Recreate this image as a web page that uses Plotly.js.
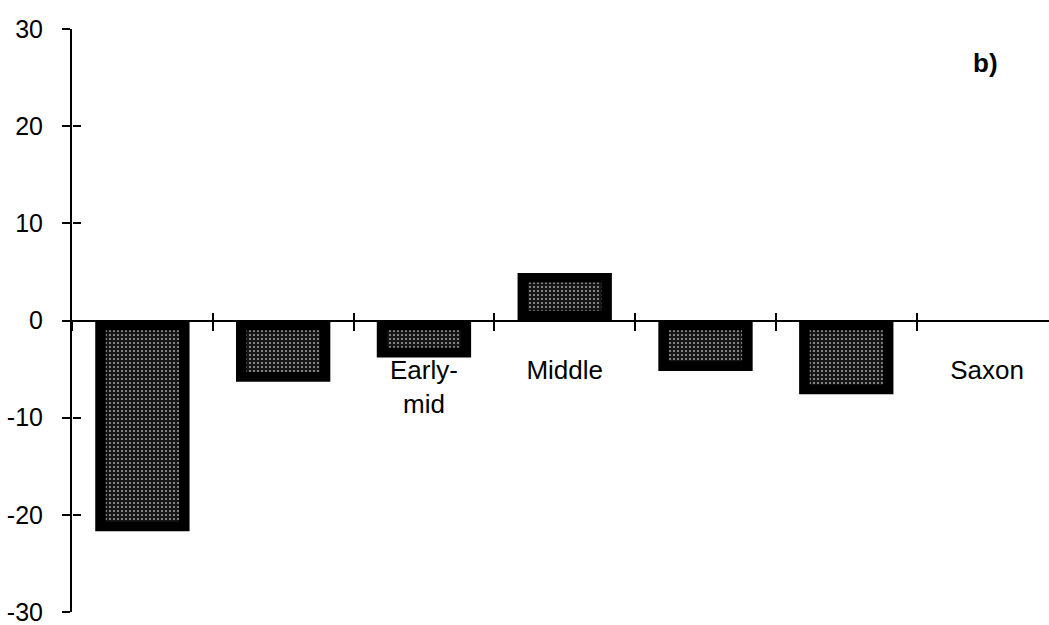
<!DOCTYPE html>
<html>
<head>
<meta charset="utf-8">
<script src="https://cdn.plot.ly/plotly-3.0.1.min.js"></script>
<style>
  html, body { margin: 0; padding: 0; background: #fff; }
  #chart { width: 1049px; height: 625px; }
</style>
</head>
<body>
<div id="chart"></div>
<script>
// periods along the x axis (only some were labelled in the original)
var periods = ['p1', 'p2', 'p3', 'p4', 'p5', 'p6', 'p7'];
var periodLabels = ['', '', 'Early-<br>mid', 'Middle', '', '', 'Saxon'];
var values = [-21.7, -6.3, -3.8, 4.9, -5.2, -7.6, 0];
var yTicks = [-30, -20, -10, 0, 10, 20, 30];

// inner speckled panel sits inside the black frame
var inset = 1.0;
var innerBase = values.map(function(v){ return v < 0 ? -inset : inset; });
var innerLen = values.map(function(v){
    if (Math.abs(v) <= 2 * inset) return 0;
    return v < 0 ? v + 2 * inset : v - 2 * inset;
});

var font = 'Liberation Sans, Arial, Helvetica, sans-serif';

var frame = {
    type: 'bar',
    x: periods,
    y: values,
    width: 0.67,
    marker: { color: '#000', line: { width: 0 } },
    hoverinfo: 'skip'
};

var fill = {
    type: 'bar',
    x: periods,
    y: innerLen,
    base: innerBase,
    width: 0.52,
    marker: {
        color: '#222',
        line: { width: 0 },
        pattern: { shape: '.', bgcolor: '#161616', fgcolor: '#a8a8a8', size: 4, solidity: 0.2, fillmode: 'replace' }
    },
    hoverinfo: 'skip'
};

// helper trace so the second pair of axes (crossing ticks) is drawn
var helper = {
    type: 'scatter',
    mode: 'markers',
    x: periods,
    y: values,
    xaxis: 'x2',
    yaxis: 'y2',
    marker: { opacity: 0 },
    hoverinfo: 'skip'
};

var layout = {
    width: 1049,
    height: 625,
    margin: { l: 72, r: 0, t: 29, b: 13 },
    paper_bgcolor: '#fff',
    plot_bgcolor: 'rgba(0,0,0,0)',
    showlegend: false,
    barmode: 'overlay',
    font: { family: font, size: 25, color: '#000' },
    xaxis: {
        type: 'category',
        categoryorder: 'array',
        categoryarray: periods,
        range: [-0.5, 6.44],
        anchor: 'free',
        position: 0.5,
        showline: true,
        linecolor: '#000',
        linewidth: 2,
        ticks: 'outside',
        tickson: 'boundaries',
        ticklen: 9,
        tickwidth: 2,
        tickcolor: '#000',
        tickvals: periods,
        ticktext: periodLabels,
        ticklabelstandoff: 26,
        tickfont: { family: font, size: 26, color: '#000' },
        showgrid: false,
        zeroline: false,
        fixedrange: true
    },
    xaxis2: {
        type: 'category',
        overlaying: 'x',
        matches: 'x',
        anchor: 'free',
        position: 0.5,
        showline: false,
        ticks: 'inside',
        tickson: 'boundaries',
        ticklen: 8,
        tickwidth: 2,
        tickcolor: '#000',
        tickvals: periods,
        showticklabels: false,
        showgrid: false,
        zeroline: false
    },
    yaxis: {
        range: [-30, 30],
        tickvals: yTicks,
        ticktext: yTicks.map(String),
        showline: true,
        linecolor: '#000',
        linewidth: 2,
        ticks: 'outside',
        ticklen: 8,
        tickwidth: 2,
        tickcolor: '#000',
        ticklabelstandoff: 14,
        ticklabeloverflow: 'allow',
        tickfont: { family: font, size: 25, color: '#000' },
        showgrid: false,
        zeroline: false,
        fixedrange: true
    },
    yaxis2: {
        overlaying: 'y',
        matches: 'y',
        anchor: 'free',
        position: 0,
        showline: false,
        ticks: 'inside',
        ticklen: 8,
        tickwidth: 2,
        tickcolor: '#000',
        tickvals: yTicks,
        showticklabels: false,
        showgrid: false,
        zeroline: false
    },
    annotations: [{
        text: '<b>b)</b>',
        xref: 'paper', yref: 'paper',
        x: 0.935, y: 0.942,
        xanchor: 'center', yanchor: 'middle',
        showarrow: false,
        font: { family: font, size: 26, color: '#000' }
    }]
};

Plotly.newPlot('chart', [frame, fill, helper], layout, { staticPlot: true });
</script>
</body>
</html>
